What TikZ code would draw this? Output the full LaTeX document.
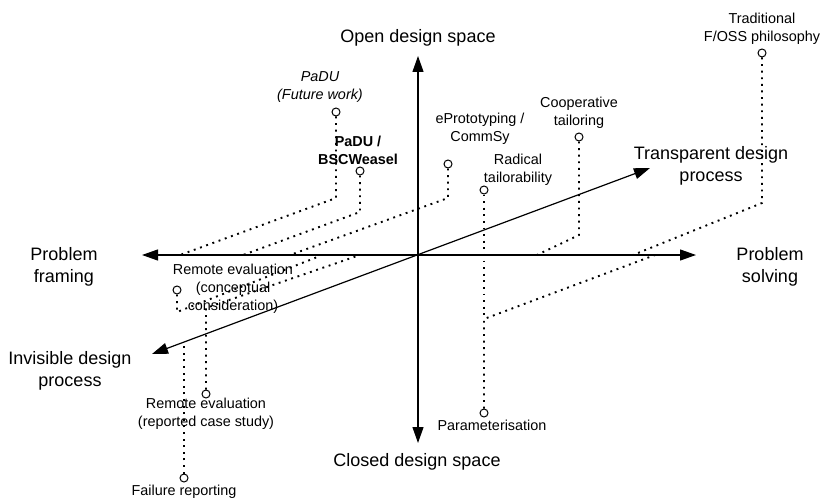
\documentclass[tikz,border=0pt]{standalone}
\usepackage{fontspec}
\setmainfont{Liberation Sans}
\usetikzlibrary{arrows.meta}
\begin{document}
\begin{tikzpicture}[x=1pt,y=-1pt,
  axis/.style={line width=1.2pt, {Triangle[length=16pt,width=11pt]}-{Triangle[length=16pt,width=11pt]}},
  dotline/.style={line width=1.9pt, dash pattern=on 1.9pt off 4.7pt, line cap=butt},
  pt/.style={circle, draw, fill=white, line width=1pt, inner sep=0pt, minimum size=8pt},
  big/.style={font=\fontsize{18}{22}\selectfont, align=center, inner sep=0pt},
  small/.style={font=\fontsize{14.4}{18}\selectfont, align=center, inner sep=0pt}]
\useasboundingbox (0,0) rectangle (821,500);
\fill[white] (0,0) rectangle (821,500);
% axes ends
\coordinate (top) at (418,56);
\coordinate (bot) at (418,443);
\coordinate (lft) at (142,255);
\coordinate (rgt) at (696,255);
\coordinate (dll) at (152,354);
\coordinate (dur) at (650,168);
% corner and end coordinates of projections
\coordinate (fwc) at (336,198);  \coordinate (fwe) at (180,255);
\coordinate (bscc) at (360,212); \coordinate (bsce) at (243,255);
\coordinate (eprc) at (448,198); \coordinate (epre) at (290,255);
\coordinate (coopc) at (579,235); \coordinate (coope) at (537,255);
\coordinate (fossc) at (762,203); \coordinate (fosse) at (633,255);
\coordinate (parc) at (484,319); \coordinate (pare) at (655,255);
\coordinate (conc) at (177,312); \coordinate (cone) at (320,256);
\coordinate (casc) at (206,308); \coordinate (case) at (360,255);
\coordinate (failc) at (184,342);
% point circles
\node[pt] (fw) at (336,112) {};
\node[pt] (bsc) at (360,171) {};
\node[pt] (epr) at (448,164) {};
\node[pt] (coop) at (579,137) {};
\node[pt] (foss) at (762,53) {};
\node[pt] (rad) at (484,190) {};
\node[pt] (par) at (484,413) {};
\node[pt] (con) at (177,290) {};
\node[pt] (cas) at (206,394) {};
\node[pt] (fail) at (184,478) {};
% dotted projections
\draw[dotline] (fw) -- (fwc) -- (fwe);
\draw[dotline] (bsc) -- (bscc) -- (bsce);
\draw[dotline] (epr) -- (eprc) -- (epre);
\draw[dotline] (coop) -- (coopc) -- (coope);
\draw[dotline] (foss) -- (fossc) -- (fosse);
\draw[dotline] (rad) -- (parc);
\draw[dotline] (par) -- (parc) -- (pare);
\draw[dotline] (con) -- (conc) -- (cone);
\draw[dotline] (cas) -- (casc) -- (case);
\draw[dotline] (fail) -- (failc);
% axes
\draw[axis] (top) -- (bot);
\draw[axis] (lft) -- (rgt);
\draw[axis] (dll) -- (dur);
% axis labels
\node[big] (lopen) at (418,38) {Open design space};
\node[big] (lclosed) at (417,462) {Closed design space};
\node[big] (lframe) at (64,267) {Problem\\framing};
\node[big] (lsolve) at (770,267) {Problem\\solving};
\node[big] (ltrans) at (711,166) {Transparent design\\process};
\node[big] (linvis) at (70,371) {Invisible design\\process};
% point labels
\node[small] (tfoss) at (762,29) {Traditional\\F/OSS philosophy};
\node[small] (tcoop) at (579,113) {Cooperative\\tailoring};
\node[small] (tepr) at (480,129) {ePrototyping /\\CommSy};
\node[small] (trad) at (518,170) {Radical\\tailorability};
\node[small, font=\fontsize{14.4}{18}\selectfont\itshape] (tfw) at (320,87) {PaDU\\(Future work)};
\node[small, font=\fontsize{14.4}{18}\selectfont\bfseries] (tbsc) at (358,150) {PaDU /\\BSCWeasel};
\node[small] (tcon) at (233,289) {Remote evaluation\\(conceptual\\consideration)};
\node[small] (tcas) at (206,414) {Remote evaluation\\(reported case study)};
\node[small] (tfail) at (184,492) {Failure reporting};
\node[small] (tpar) at (492,425) {Parameterisation};
\end{tikzpicture}
\end{document}
